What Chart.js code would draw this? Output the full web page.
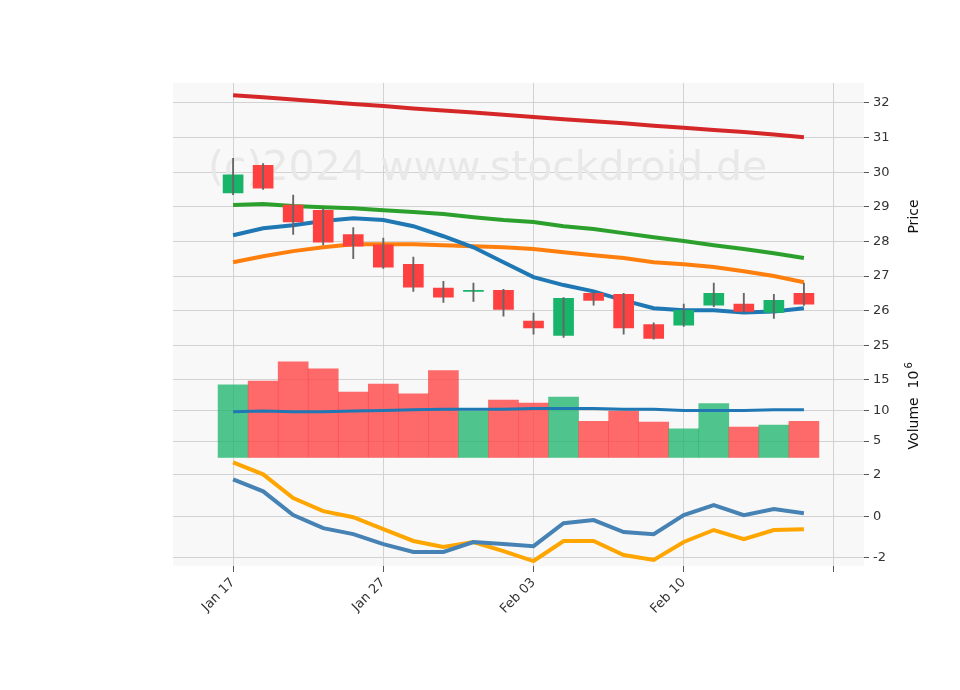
<!DOCTYPE html>
<html><head><meta charset="utf-8">
<script src="https://cdn.jsdelivr.net/npm/chart.js@4.4.1/dist/chart.umd.min.js"></script>
<style>
body{margin:0;background:#fff;width:960px;height:690px;position:relative;overflow:hidden}
canvas{position:absolute}
</style></head><body>
<div style="position:absolute;left:173px;top:71px;width:751px;height:291px"><canvas id="c1"></canvas></div>
<div style="position:absolute;left:173px;top:338px;width:751px;height:132px"><canvas id="c2"></canvas></div>
<div style="position:absolute;left:173px;top:446px;width:751px;height:190px"><canvas id="c3"></canvas></div>
<script>
const dates=["Jan 17","Jan 21","Jan 22","Jan 23","Jan 24","Jan 27","Jan 28","Jan 29","Jan 30","Jan 31","Feb 03","Feb 04","Feb 05","Feb 06","Feb 07","Feb 10","Feb 11","Feb 12","Feb 13","Feb 14",""];
const tickIdx=[0,5,10,15,20];
const openP=[29.40,30.20,29.05,28.90,28.20,27.90,27.34,26.65,26.56,26.59,25.70,25.29,26.50,26.47,25.60,25.58,26.16,26.19,25.95,26.50];
const closeP=[29.92,29.54,28.56,27.98,27.86,27.26,26.68,26.39,26.59,26.04,25.50,26.36,26.30,25.50,25.20,26.01,26.50,25.98,26.30,26.19];
const highP=[30.40,30.25,29.34,28.95,28.40,28.10,27.55,26.85,26.80,26.62,25.93,26.38,26.52,26.50,25.65,26.19,26.80,26.50,26.47,26.80];
const lowP=[29.35,29.50,28.20,27.90,27.50,27.22,26.56,26.24,26.27,25.84,25.32,25.23,26.16,25.32,25.18,25.55,26.12,25.95,25.78,26.15];
const maRed=[32.22,32.16,32.10,32.03,31.97,31.91,31.84,31.78,31.72,31.66,31.59,31.53,31.47,31.41,31.34,31.28,31.22,31.16,31.09,31.01];
const maGreen=[29.05,29.08,29.02,28.99,28.96,28.90,28.85,28.79,28.70,28.62,28.56,28.44,28.36,28.24,28.12,28.01,27.89,27.78,27.66,27.52];
const maBlue=[28.18,28.38,28.47,28.59,28.67,28.62,28.44,28.15,27.83,27.40,26.97,26.74,26.56,26.30,26.07,26.01,26.01,25.95,25.98,26.07];
const maOrange=[27.40,27.57,27.72,27.83,27.92,27.92,27.92,27.89,27.86,27.83,27.78,27.69,27.60,27.52,27.40,27.34,27.26,27.14,27.00,26.82];
const volume=[14.2,14.8,17.95,16.8,13.0,14.3,12.7,16.5,9.9,11.7,11.2,12.2,8.2,9.9,8.1,7.0,11.1,7.3,7.6,8.2];
const volMA=[9.8,9.9,9.8,9.8,9.9,10.0,10.1,10.2,10.2,10.2,10.3,10.3,10.3,10.2,10.2,10.0,10.0,10.0,10.1,10.1];
const macd=[1.78,1.20,0.05,-0.58,-0.87,-1.35,-1.73,-1.73,-1.25,-1.35,-1.45,-0.34,-0.19,-0.77,-0.87,0.05,0.53,0.05,0.34,0.14];
const signal=[2.60,2.02,0.87,0.24,-0.05,-0.63,-1.20,-1.49,-1.25,-1.69,-2.17,-1.20,-1.20,-1.88,-2.12,-1.25,-0.67,-1.11,-0.67,-0.63];
const priceTicks=[25,26,27,28,29,30,31,32], volTicks=[5,10,15], macdTicks=[-2,0,2];

Chart.defaults.font.family='"DejaVu Sans"';Chart.defaults.font.size=13;Chart.defaults.color='#333';
const up=openP.map((o,i)=>closeP[i]>=o);
const pts=a=>a.map((v,i)=>({x:i,y:v}));
const bg={id:'bg',beforeDraw(c){const a=c.chartArea,x=c.ctx;x.save();x.fillStyle='#f8f8f8';x.fillRect(a.left,a.top,a.width,a.height);x.restore();}};
const wm={id:'wm',beforeDatasetsDraw(c){const a=c.chartArea,x=c.ctx;x.save();x.fillStyle='#e8e8e8';x.font='41px "DejaVu Sans"';
 x.textBaseline='alphabetic';x.fillText('(c)2024 www.stockdroid.de',a.left+35,a.top+97);x.restore();}};
function titlePlugin(text,sup){return {id:'yt',afterDraw(c){const a=c.chartArea,x=c.ctx;x.save();
 x.translate(a.right+57,(a.top+a.bottom)/2);x.rotate(-Math.PI/2);x.fillStyle='#111';x.font='14px "DejaVu Sans"';
 x.textAlign='center';x.textBaseline='bottom';
 if(sup){const w=x.measureText(text).width;x.fillText(text,-6,0);x.font='10px "DejaVu Sans"';x.textAlign='left';x.fillText(sup,w/2-4,-7);}
 else x.fillText(text,0,0);x.restore();}};}
const grid='#d2d2d2';
function xScale(bottom){return {type:'linear',min:-2,max:21,offset:false,
 afterBuildTicks:s=>{s.ticks=tickIdx.map(v=>({value:v}));},
 afterFit:s=>{s.height=bottom?70:0;},
 grid:{color:grid,drawTicks:bottom,tickLength:6,tickColor:'#555',offset:false},border:{display:false},
 ticks:{display:bottom,maxRotation:45,minRotation:45,autoSkip:false,callback:v=>dates[v]||'',color:'#333'}};}
function yScale(min,max,ticks){return {position:'right',min,max,
 afterBuildTicks:s=>{s.ticks=ticks.map(v=>({value:v}));},
 afterFit:s=>{s.width=60;},
 grid:{color:grid,drawTicks:true,tickLength:5,tickColor:'#555'},border:{display:false},
 ticks:{padding:4,color:'#333'}};}
const common={responsive:true,maintainAspectRatio:false,animation:false,layout:{padding:0,autoPadding:false},
 plugins:{legend:{display:false},tooltip:{enabled:false}}};
const line=(d,c,w)=>({type:'line',data:pts(d),borderColor:c,borderWidth:w,pointRadius:0,tension:0,borderCapStyle:'butt'});

new Chart(document.getElementById('c1'),{type:'bar',plugins:[bg,wm,titlePlugin('Price')],
 data:{datasets:[
  {data:highP.map((h,i)=>({x:i,y:[lowP[i],h]})),backgroundColor:'#666',barThickness:1.2},
  {data:openP.map((o,i)=>({x:i,y:[Math.min(o,closeP[i]),Math.max(o,closeP[i])===Math.min(o,closeP[i])?o+0.02:Math.max(o,closeP[i])]})),
   backgroundColor:up.map(u=>u?'#17b46a':'#ff4040'),barThickness:20},
  line(maRed,'#d62728',4),line(maGreen,'#2ca02c',4),line(maBlue,'#1f77b4',4),line(maOrange,'#ff7f0e',4)
 ].map(d=>Object.assign({grouped:false},d))},
 options:{...common,scales:{x:xScale(false),y:yScale(24.86,32.58,priceTicks)}}});

new Chart(document.getElementById('c2'),{type:'bar',plugins:[bg,titlePlugin('Volume  10','6')],
 data:{datasets:[
  line(volMA,'#1f77b4',3),
  {data:pts(volume),backgroundColor:up.map(u=>u?'rgba(23,180,106,0.75)':'rgba(255,64,64,0.78)'),barThickness:30,order:1},
 ].map(d=>Object.assign({grouped:false},d))},
 options:{...common,scales:{x:xScale(false),y:yScale(2.2,19.9,volTicks)}}});

new Chart(document.getElementById('c3'),{type:'line',plugins:[bg],
 data:{datasets:[line(macd,'#4682b4',4),line(signal,'#ffa500',4)]},
 options:{...common,scales:{x:xScale(true),y:yScale(-2.41,2.82,macdTicks)}}});
</script></body></html>
